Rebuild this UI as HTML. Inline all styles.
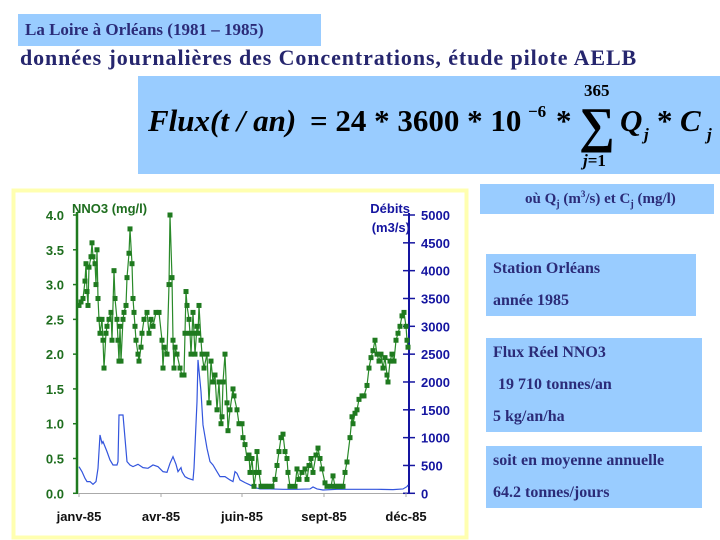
<!DOCTYPE html>
<html><head><meta charset="utf-8"><style>
body{margin:0;width:720px;height:540px;background:#fff;position:relative;overflow:hidden;font-family:"Liberation Serif",serif;color:#2b2b78}
.box{position:absolute;background:#99ccff;font-weight:bold;font-size:16px}
.box div{position:absolute;left:7px;white-space:nowrap}
</style></head><body>
<div class="box" style="left:18px;top:14px;width:303px;height:32px;font-size:17px"><div style="top:6px">La Loire à Orléans (1981 – 1985)</div></div>
<div style="position:absolute;left:20px;top:45px;font-size:22px;font-weight:bold;letter-spacing:0.9px;white-space:nowrap;color:#26266e">données journalières des Concentrations, étude pilote AELB</div>
<div class="box" style="left:138px;top:76px;width:582px;height:98px;color:#000">
<svg width="582" height="98" style="position:absolute;left:0;top:0" font-family="Liberation Serif" font-weight="bold">
<text x="10" y="55" font-size="31" font-style="italic">Flux(t / an)</text>
<text x="172" y="55" font-size="31">= 24 * 3600 * 10</text>
<text x="390" y="41" font-size="17">−6</text>
<text x="418" y="55" font-size="31">*</text>
<text x="441" y="66" font-size="50">∑</text>
<text x="446" y="20" font-size="17">365</text>
<text x="445" y="90" font-size="17"><tspan font-style="italic">j</tspan>=1</text>
<text x="482" y="55" font-size="31" font-style="italic">Q</text>
<text x="506" y="64" font-size="17" font-style="italic">j</text>
<text x="519" y="55" font-size="31">* </text>
<text x="542" y="55" font-size="31" font-style="italic">C</text>
<text x="569" y="64" font-size="17" font-style="italic">j</text>
</svg></div>
<div class="box" style="left:480px;top:184px;width:234px;height:30px;font-size:15px"><div style="left:45px;top:5px">où Q<sub style="font-size:10px">j</sub> (m<sup style="font-size:9px">3</sup>/s) et C<sub style="font-size:10px">j</sub> (mg/l)</div></div>
<div class="box" style="left:486px;top:254px;width:210px;height:62px"><div style="top:6px">Station Orléans</div><div style="top:38px">année 1985</div></div>
<div class="box" style="left:486px;top:338px;width:216px;height:94px"><div style="top:6px">Flux Réel NNO3</div><div style="top:38px;left:12px">19 710 tonnes/an</div><div style="top:70px">5 kg/an/ha</div></div>
<div class="box" style="left:486px;top:446px;width:216px;height:62px"><div style="top:6px">soit en moyenne annuelle</div><div style="top:38px">64.2 tonnes/jours</div></div>

<svg id="chart" width="720" height="540" style="position:absolute;left:0;top:0" font-family="Liberation Sans" font-weight="bold"></svg>
<script>
const xTickDays=[0,82,163,245,327];
const xTickLabels=["janv-85","avr-85","juin-85","sept-85","déc-85"];
const leftTicks=[0,0.5,1,1.5,2,2.5,3,3.5,4];
const rightTicks=[0,500,1000,1500,2000,2500,3000,3500,4000,4500,5000];
const nDays=[0,2,4,6,7,8,9,10,12,13,14,16,17,18,19,20,21,23,24,25,27,28,30,32,33,35,36,38,39,40,41,42,44,45,47,48,50,51,53,54,55,56,57,59,60,62,63,65,68,70,72,74,77,80,83,84,85,88,90,91,93,94,95,96,98,101,103,105,106,107,108,110,111,112,114,115,116,118,119,120,122,123,125,128,130,132,134,136,138,140,142,143,144,146,148,149,151,154,155,158,160,163,164,166,168,170,171,173,175,177,178,180,182,184,186,188,190,193,196,198,200,202,204,206,208,209,211,216,218,220,223,226,228,230,232,234,237,239,241,243,246,248,252,254,256,258,260,262,264,266,268,271,273,274,276,278,280,283,285,288,290,292,294,296,298,300,302,304,306,308,309,311,313,315,317,319,321,323,325,327,328,329];
const nno3=[2.7,2.75,2.8,3.05,3.3,2.9,2.7,3.25,3.4,3.6,3.4,3.3,3.0,3.5,2.8,2.5,2.3,2.5,2.2,1.8,2.3,2.4,2.5,2.6,2.2,3.2,2.8,2.5,2.2,1.9,2.4,1.9,2.5,2.6,2.7,3.1,3.45,3.8,3.3,2.8,2.6,2.4,2.2,2.0,1.9,2.1,2.3,2.5,2.6,2.3,2.5,2.4,2.6,2.6,2.2,1.8,2.1,2.0,3.0,4.0,3.1,2.2,1.8,2.1,2.0,1.8,1.7,1.7,2.3,2.9,2.7,2.5,2.3,2.0,2.6,2.3,2.0,2.4,2.3,2.7,2.2,2.0,1.8,2.0,1.3,1.9,1.6,1.7,1.2,1.6,1.0,1.1,1.6,2.0,1.3,0.9,1.2,1.5,1.4,1.2,1.0,1.0,0.8,0.7,0.5,0.55,0.3,0.5,0.1,0.3,0.6,0.3,0.1,0.1,0.1,0.1,0.1,0.1,0.2,0.4,0.6,0.8,0.85,0.6,0.5,0.3,0.1,0.1,0.35,0.2,0.3,0.35,0.2,0.4,0.5,0.3,0.55,0.65,0.5,0.35,0.15,0.1,0.1,0.25,0.1,0.1,0.1,0.1,0.1,0.3,0.45,0.8,1.1,1.0,1.15,1.2,1.35,1.4,1.4,1.55,1.8,1.95,2.05,2.2,2.0,1.9,2.0,1.8,1.95,1.7,1.6,1.9,2.0,1.9,2.2,2.3,2.4,2.55,2.6,2.4,2.2,2.1];
const qDays=[0,3,6,8,11,14,17,19,21,23,24,28,31,34,38,39,40,44,46,48,51,54,59,64,69,74,79,84,88,91,94,97,99,102,103,106,109,114,115,118,119,122,124,128,131,134,138,141,146,151,154,156,158,161,166,171,176,181,191,204,218,231,234,238,244,258,281,298,314,324,328,329];
const debit=[479,389,269,210,210,162,210,449,1048,898,928,749,599,509,509,569,1407,1407,988,569,509,479,521,461,449,509,479,389,377,539,659,521,389,461,389,299,269,240,449,1647,2396,1827,1228,808,569,509,389,299,299,240,210,389,359,240,192,150,102,78,78,72,72,78,114,78,60,72,72,72,66,78,120,150];
const svg=document.getElementById('chart');const NS='http://www.w3.org/2000/svg';
function mk(t,a,p){const e=document.createElementNS(NS,t);for(const k in a)e.setAttribute(k,a[k]);(p||svg).appendChild(e);return e;}
const X=d=>79+d, YL=v=>493.3-v*(278.3/4), YR=v=>493.3-v*(278.3/5000);
let bg=mk('rect',{x:13.5,y:190.5,width:453,height:347,fill:'#fff',stroke:'#ffffb0','stroke-width':4});


let la=mk('line',{x1:77,y1:212,x2:77,y2:494,stroke:'#1f7a1f','stroke-width':2.5});


let xa=mk('line',{x1:77,y1:493.5,x2:410,y2:493.5,stroke:'#aaa','stroke-width':1});


leftTicks.forEach(v=>{
 mk('line',{x1:73,x2:78,y1:YL(v),y2:YL(v),stroke:'#1f7a1f','stroke-width':1.5});
 let t=mk('text',{x:64,y:YL(v)+5,'text-anchor':'end','font-size':13,fill:'#1f6e1f'});t.textContent=v.toFixed(1);
 
 
});
let ra=mk('line',{x1:409,y1:213,x2:409,y2:494,stroke:'#1515a0','stroke-width':2});


rightTicks.forEach(v=>{
 mk('line',{x1:403,x2:415,y1:YR(v),y2:YR(v),stroke:'#1515a0','stroke-width':1.5});
 let t=mk('text',{x:421,y:YR(v)+5,'font-size':13,fill:'#1515a0'});t.textContent=v;
 
 
});
xTickDays.forEach((d,i)=>{
 mk('line',{x1:X(d),x2:X(d),y1:493,y2:497,stroke:'#aaa'});
 let t=mk('text',{x:X(d),y:521,'text-anchor':'middle','font-size':13,fill:'#111'});t.textContent=xTickLabels[i];
 
 
});
let t1=mk('text',{x:72,y:213,'font-size':13,fill:'#1f6e1f'});t1.textContent='NNO3 (mg/l)';


let t2=mk('text',{x:410,y:213,'text-anchor':'end','font-size':13,fill:'#1515a0'});t2.textContent='Débits';


let t3=mk('text',{x:410,y:232,'text-anchor':'end','font-size':13,fill:'#1515a0'});t3.textContent='(m3/s)';


let pl=mk('polyline',{points:qDays.map((d,i)=>X(d)+','+YR(debit[i])).join(' '),fill:'none',stroke:'#3355dd','stroke-width':1.2});


let gl=mk('polyline',{points:nDays.map((d,i)=>X(d)+','+YL(nno3[i])).join(' '),fill:'none',stroke:'#2a8a2a','stroke-width':1.2});


nDays.forEach((d,i)=>{
 let r=mk('rect',{x:X(d)-2.5,y:YL(nno3[i])-2.5,width:5,height:5,fill:'#1f7a1f'});
 
 
});
</script>
</body></html>
